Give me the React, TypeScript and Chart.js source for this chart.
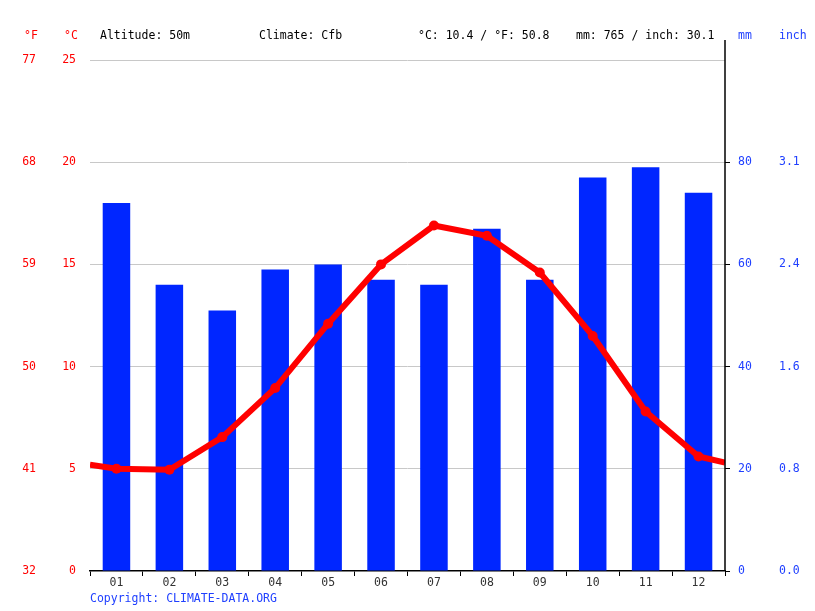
import React, { useEffect, useRef } from "react";
import { Chart, registerables } from "chart.js";

Chart.register(...registerables);

const months = ["01", "02", "03", "04", "05", "06", "07", "08", "09", "10", "11", "12"];
const precipMm = [72, 56, 51, 59, 60, 57, 56, 67, 57, 77, 79, 74];
const tempC = [5.0, 4.95, 6.55, 8.95, 12.1, 15.0, 16.9, 16.4, 14.6, 11.5, 7.8, 5.6];
const tempEdgeStart = 5.2;
const tempEdgeEnd = 5.3;
const headerTexts = [
  { text: "Altitude: 50m", x: 100 },
  { text: "Climate: Cfb", x: 259 },
  { text: "°C: 10.4 / °F: 50.8", x: 418 },
  { text: "mm: 765 / inch: 30.1", x: 576 },
];
const copyright = "Copyright: CLIMATE-DATA.ORG";

const FONT = "'DejaVu Sans Mono', monospace";
const RED = "#ff0000";
const BLUE = "#0026ff";
const LBLUE = "#2040ff";

export default function App() {
  const ref = useRef<HTMLCanvasElement>(null);
  useEffect(() => {
    document.body.style.margin = "0";
    const canvas = ref.current;
    if (!canvas) return;
    const linePoints = [
      { x: 0.5, y: tempEdgeStart },
      ...tempC.map((v, i) => ({ x: i + 1, y: v })),
      { x: 12.5, y: tempEdgeEnd },
    ];
    const overlay = {
      id: "overlay",
      afterDraw(chart: any) {
        const ctx = chart.ctx;
        const area = chart.chartArea;
        ctx.save();
        ctx.font = `11.5px ${FONT}`;
        ctx.textBaseline = "middle";
        ctx.textAlign = "left";
        ctx.fillStyle = RED;
        ctx.fillText("°F", 24, 36.5);
        ctx.fillText("°C", 64, 36.5);
        ctx.fillStyle = "#000";
        headerTexts.forEach((h) => ctx.fillText(h.text, h.x, 36.5));
        ctx.fillStyle = LBLUE;
        ctx.fillText("mm", 738, 36.5);
        ctx.fillText("inch", 779, 36.5);
        ctx.fillText(copyright, 90, 599.5);
        // right axis line
        ctx.strokeStyle = "#000";
        ctx.lineWidth = 1.5;
        ctx.beginPath();
        ctx.moveTo(area.right, 40);
        ctx.lineTo(area.right, area.bottom);
        ctx.stroke();
        ctx.restore();
      },
    };
    const chart = new Chart(canvas, {
      type: "bar",
      data: {
        labels: months,
        datasets: [
          {
            type: "line",
            data: linePoints as any,
            xAxisID: "x2",
            yAxisID: "y",
            borderColor: RED,
            backgroundColor: RED,
            borderWidth: 6,
            pointRadius: (c: any) => (c.dataIndex === 0 || c.dataIndex === linePoints.length - 1 ? 0 : 5),
            pointBackgroundColor: RED,
            pointBorderWidth: 0,
            tension: 0,
            order: 0,
          },
          {
            type: "bar",
            data: precipMm,
            xAxisID: "x",
            yAxisID: "y1",
            backgroundColor: BLUE,
            grouped: false,
            barPercentage: 0.52,
            categoryPercentage: 1,
            order: 1,
          },
        ],
      },
      options: {
        animation: false,
        responsive: false,
        events: [],
        layout: { padding: { top: 60, left: 0, right: 0, bottom: 0 } },
        plugins: { legend: { display: false }, tooltip: { enabled: false } },
        scales: {
          x: {
            type: "category",
            position: "bottom",
            offset: true,
            grid: { offset: true, drawOnChartArea: false, color: "#000", tickLength: 5, tickWidth: 1 },
            border: { display: true, color: "#000", width: 1.5 },
            ticks: { color: "#333", font: { family: FONT, size: 11.5 }, padding: 0 },
            afterFit: (s: any) => { s.height = 40; },
          },
          x2: {
            type: "linear",
            min: 0.5,
            max: 12.5,
            offset: false,
            grid: { offset: false },
            display: false,
          },
          y: {
            type: "linear",
            position: "left",
            weight: 1,
            min: 0,
            max: 25,
            ticks: { stepSize: 5, color: RED, font: { family: FONT, size: 11.5 }, padding: 14 },
            grid: {
              color: (c: any) => (c.tick && c.tick.value === 0 ? "rgba(0,0,0,0)" : "#c8c8c8"),
              drawTicks: false,
              lineWidth: 1,
            },
            border: { display: false },
            afterFit: (s: any) => { s.width = 45; },
          },
          yF: {
            type: "linear",
            position: "left",
            weight: 2,
            min: 32,
            max: 77,
            ticks: { stepSize: 9, color: RED, font: { family: FONT, size: 11.5 }, padding: 9 },
            grid: { display: false, drawTicks: false },
            border: { display: false },
            afterFit: (s: any) => { s.width = 45; },
          },
          y1: {
            type: "linear",
            position: "right",
            weight: 1,
            min: 0,
            max: 100,
            ticks: {
              stepSize: 20,
              color: LBLUE,
              font: { family: FONT, size: 11.5 },
              padding: 8,
              callback: (v: any) => (v >= 100 ? "" : String(v)),
            },
            grid: {
              drawOnChartArea: false,
              color: (c: any) => (c.tick && c.tick.value >= 100 ? "rgba(0,0,0,0)" : "#000"),
              tickLength: 5,
            },
            border: { display: false },
            afterFit: (s: any) => { s.width = 45; },
          },
          y2: {
            type: "linear",
            position: "right",
            weight: 2,
            min: 0,
            max: 100,
            ticks: {
              stepSize: 20,
              color: LBLUE,
              font: { family: FONT, size: 11.5 },
              padding: 9,
              callback: (v: any) => (v >= 100 ? "" : (v / 25.4).toFixed(1)),
            },
            grid: { display: false, drawTicks: false },
            border: { display: false },
            afterFit: (s: any) => { s.width = 45; },
          },
        },
      } as any,
      plugins: [overlay],
    } as any);
    return () => chart.destroy();
  }, []);
  return (
    <div style={{ width: 815, height: 611, background: "#fff" }}>
      <canvas ref={ref} width={815} height={611} style={{ width: 815, height: 611, display: "block" }} />
    </div>
  );
}
